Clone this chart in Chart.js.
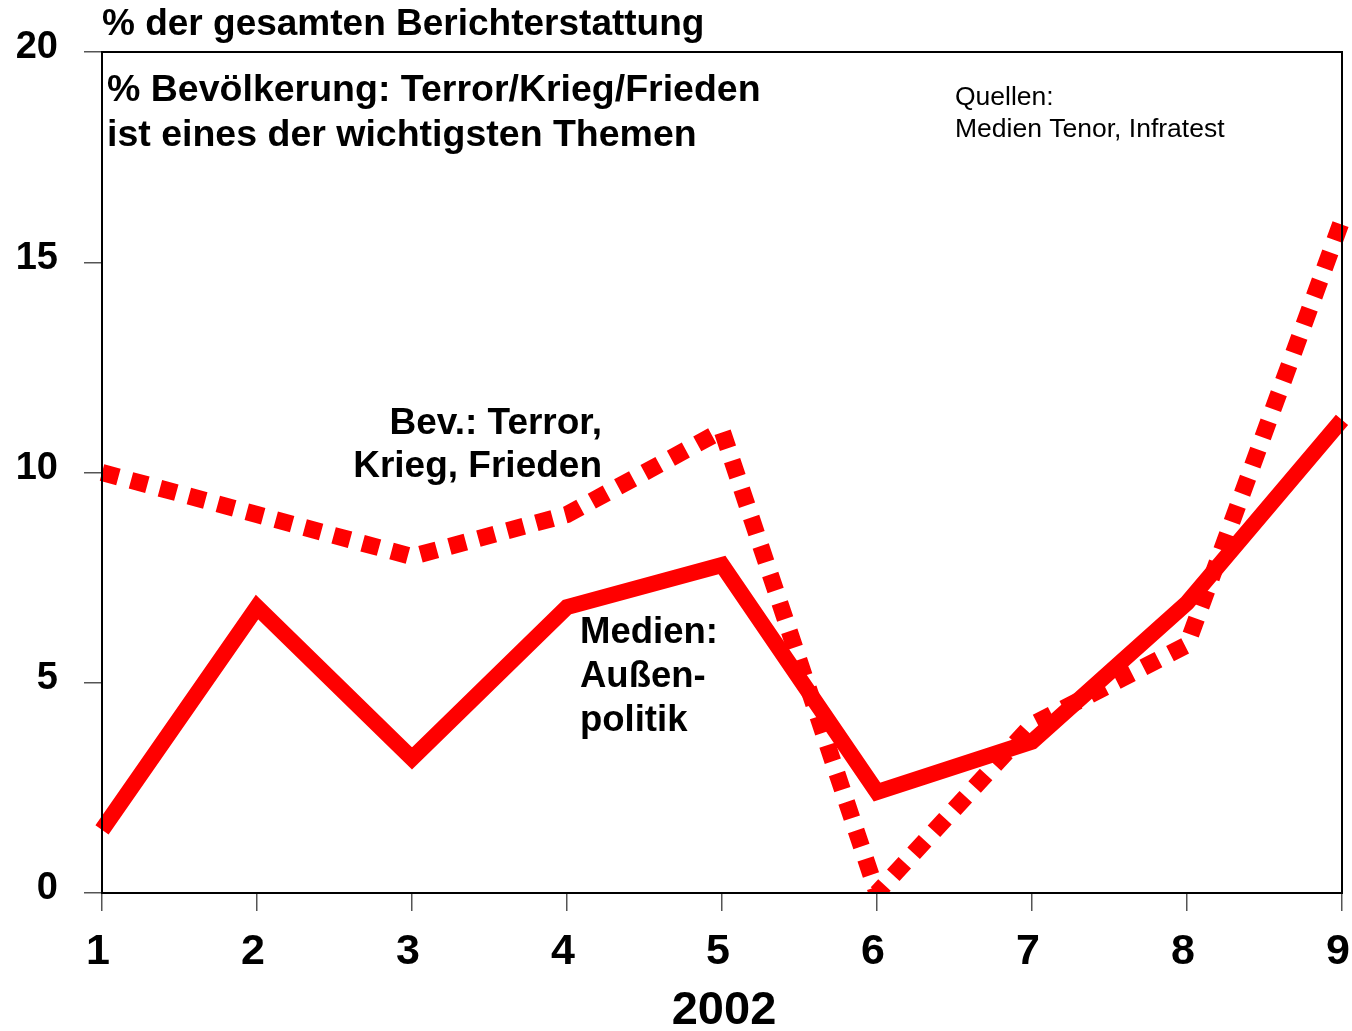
<!DOCTYPE html>
<html><head><meta charset="utf-8">
<script src="https://cdn.jsdelivr.net/npm/chart.js@4/dist/chart.umd.min.js"></script>
<style>html,body{margin:0;padding:0;background:#fff}#wrap{width:1352px;height:1031px}</style>
</head><body><div id="wrap"><canvas id="c" width="1352" height="1031"></canvas></div>
<script>
const categories = ['1','2','3','4','5','6','7','8','9'];
const medienAussenpolitik = [1.5, 6.8, 3.2, 6.8, 7.8, 2.4, 3.6, 6.9, 11.25];
const bevTerrorKriegFrieden = [10, 9, 8, 9, 11, 0, 4, 5.9, 16];
const yTicks = [0, 5, 10, 15, 20];
const xAxisTitle = '2002';
const topTitle = '% der gesamten Berichterstattung';
const innerTitle = ['% Bevölkerung: Terror/Krieg/Frieden', 'ist eines der wichtigsten Themen'];
const sources = ['Quellen:', 'Medien Tenor, Infratest'];
const bevLabel = ['Bev.: Terror,', 'Krieg, Frieden'];
const medienLabel = ['Medien:', 'Außen-', 'politik'];

const FONT = '"Liberation Sans", Arial, sans-serif';

const textPlugin = {
  id: 'texts',
  afterDatasetsDraw(chart) {
    const ctx = chart.ctx, a = chart.chartArea;
    ctx.save();
    ctx.strokeStyle = '#000';
    ctx.lineWidth = 2;
    ctx.strokeRect(a.left, a.top, a.right - a.left, a.bottom - a.top);
    ctx.fillStyle = '#000';
    ctx.textBaseline = 'middle';
    ctx.textAlign = 'left';
    ctx.font = 'bold 37px ' + FONT;
    ctx.fillText(topTitle, a.left, 25);
    ctx.font = 'bold 37.5px ' + FONT;
    innerTitle.forEach((t, i) => ctx.fillText(t, a.left + 5, 91 + i * 45));
    ctx.font = '26.5px ' + FONT;
    sources.forEach((t, i) => ctx.fillText(t, 955, 98 + i * 32));
    ctx.font = 'bold 37px ' + FONT;
    ctx.textAlign = 'right';
    bevLabel.forEach((t, i) => ctx.fillText(t, 602, 424 + i * 43));
    ctx.font = 'bold 36.5px ' + FONT;
    ctx.textAlign = 'left';
    medienLabel.forEach((t, i) => ctx.fillText(t, 580, 633 + i * 44));
    ctx.font = 'bold 47px ' + FONT;
    ctx.textAlign = 'center';
    ctx.fillText(xAxisTitle, 724, 1011);
    ctx.restore();
  }
};

new Chart(document.getElementById('c'), {
  type: 'line',
  data: {
    labels: categories,
    datasets: [
      {
        label: 'Medien: Außenpolitik',
        data: medienAussenpolitik,
        borderColor: '#ff0000',
        borderWidth: 16,
        borderJoinStyle: 'miter',
        borderCapStyle: 'butt',
        pointRadius: 0,
        tension: 0,
        fill: false
      },
      {
        label: 'Bev.: Terror, Krieg, Frieden',
        data: bevTerrorKriegFrieden,
        borderColor: '#ff0000',
        borderWidth: 17,
        borderDash: [17, 13],
        borderJoinStyle: 'miter',
        borderCapStyle: 'butt',
        pointRadius: 0,
        tension: 0,
        fill: false
      }
    ]
  },
  options: {
    responsive: false,
    animation: false,
    devicePixelRatio: 1,
    layout: { padding: { top: 52, right: 10, left: 0, bottom: 0 } },
    plugins: { legend: { display: false }, tooltip: { enabled: false }, title: { display: false } },
    scales: {
      x: {
        type: 'category',
        offset: false,
        grid: { drawOnChartArea: false, drawTicks: true, tickLength: 18, color: '#555', lineWidth: 1.5 },
        border: { display: true, color: '#000', width: 2 },
        ticks: { color: '#000', font: { family: FONT, size: 43, weight: 'bold' }, padding: 15, labelOffset: -4, maxRotation: 0, autoSkip: false },
        afterFit(s) { s.height = 138; s.paddingLeft = 0; s.paddingRight = 0; }
      },
      y: {
        min: 0, max: 20,
        afterBuildTicks(s) { s.ticks = yTicks.map(v => ({ value: v })); },
        grid: { drawOnChartArea: false, drawTicks: true, tickLength: 18, color: '#555', lineWidth: 1.5 },
        border: { display: true, color: '#000', width: 2 },
        ticks: { color: '#000', font: { family: FONT, size: 38, weight: 'bold' }, padding: 26, labelOffset: -4 },
        afterFit(s) { s.width = 102; s.paddingTop = 0; s.paddingBottom = 0; }
      }
    }
  },
  plugins: [textPlugin]
});
</script>
</body></html>
